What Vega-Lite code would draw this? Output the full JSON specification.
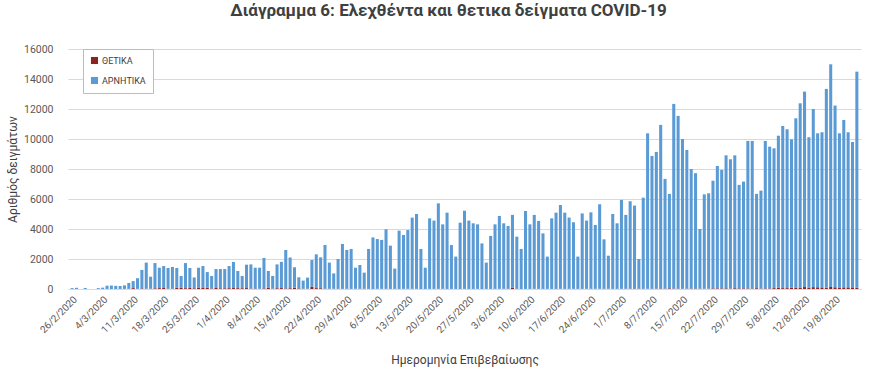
{
  "$schema": "https://vega.github.io/schema/vega-lite/v6.json",
  "width": 793,
  "height": 240,
  "autosize": {"type": "none"},
  "padding": {"left": 68, "top": 49, "right": 19, "bottom": 85},
  "background": "white",
  "config": {"view": {"stroke": null}, "font": "Roboto"},
  "title": {
    "text": "Διάγραμμα 6: Ελεχθέντα και θετικα δείγματα COVID-19",
    "fontSize": 17,
    "fontWeight": "bold",
    "color": "#404040",
    "anchor": "middle",
    "dx": -16,
    "offset": 24,
    "font": "Roboto"
  },
  "data": {
    "values": [
      {"date": "26/2/2020", "pos": 1, "neg": 59},
      {"date": "27/2/2020", "pos": 1, "neg": 79},
      {"date": "28/2/2020", "pos": 0, "neg": 0},
      {"date": "29/2/2020", "pos": 1, "neg": 69},
      {"date": "1/3/2020", "pos": 0, "neg": 0},
      {"date": "2/3/2020", "pos": 0, "neg": 0},
      {"date": "3/3/2020", "pos": 2, "neg": 58},
      {"date": "4/3/2020", "pos": 0, "neg": 90},
      {"date": "5/3/2020", "pos": 3, "neg": 217},
      {"date": "6/3/2020", "pos": 0, "neg": 230},
      {"date": "7/3/2020", "pos": 0, "neg": 210},
      {"date": "8/3/2020", "pos": 2, "neg": 198},
      {"date": "9/3/2020", "pos": 7, "neg": 233},
      {"date": "10/3/2020", "pos": 20, "neg": 380},
      {"date": "11/3/2020", "pos": 60, "neg": 470},
      {"date": "12/3/2020", "pos": 9, "neg": 711},
      {"date": "13/3/2020", "pos": 38, "neg": 1232},
      {"date": "14/3/2020", "pos": 24, "neg": 1736},
      {"date": "15/3/2020", "pos": 16, "neg": 804},
      {"date": "16/3/2020", "pos": 47, "neg": 1683},
      {"date": "17/3/2020", "pos": 59, "neg": 1361},
      {"date": "18/3/2020", "pos": 66, "neg": 1464},
      {"date": "19/3/2020", "pos": 17, "neg": 1383},
      {"date": "20/3/2020", "pos": 31, "neg": 1439},
      {"date": "21/3/2020", "pos": 78, "neg": 1322},
      {"date": "22/3/2020", "pos": 74, "neg": 796},
      {"date": "23/3/2020", "pos": 55, "neg": 1675},
      {"date": "24/3/2020", "pos": 72, "neg": 1328},
      {"date": "25/3/2020", "pos": 48, "neg": 722},
      {"date": "26/3/2020", "pos": 73, "neg": 1347},
      {"date": "27/3/2020", "pos": 102, "neg": 1428},
      {"date": "28/3/2020", "pos": 95, "neg": 1035},
      {"date": "29/3/2020", "pos": 38, "neg": 832},
      {"date": "30/3/2020", "pos": 71, "neg": 1259},
      {"date": "31/3/2020", "pos": 48, "neg": 1282},
      {"date": "1/4/2020", "pos": 49, "neg": 1281},
      {"date": "2/4/2020", "pos": 56, "neg": 1474},
      {"date": "3/4/2020", "pos": 64, "neg": 1736},
      {"date": "4/4/2020", "pos": 58, "neg": 1142},
      {"date": "5/4/2020", "pos": 53, "neg": 817},
      {"date": "6/4/2020", "pos": 61, "neg": 1559},
      {"date": "7/4/2020", "pos": 24, "neg": 1616},
      {"date": "8/4/2020", "pos": 35, "neg": 1385},
      {"date": "9/4/2020", "pos": 14, "neg": 1406},
      {"date": "10/4/2020", "pos": 40, "neg": 2030},
      {"date": "11/4/2020", "pos": 73, "neg": 1127},
      {"date": "12/4/2020", "pos": 25, "neg": 845},
      {"date": "13/4/2020", "pos": 52, "neg": 1588},
      {"date": "14/4/2020", "pos": 61, "neg": 1749},
      {"date": "15/4/2020", "pos": 40, "neg": 2560},
      {"date": "16/4/2020", "pos": 51, "neg": 2049},
      {"date": "17/4/2020", "pos": 94, "neg": 1356},
      {"date": "18/4/2020", "pos": 40, "neg": 740},
      {"date": "19/4/2020", "pos": 20, "neg": 540},
      {"date": "20/4/2020", "pos": 22, "neg": 738},
      {"date": "21/4/2020", "pos": 156, "neg": 1774},
      {"date": "22/4/2020", "pos": 60, "neg": 2250},
      {"date": "23/4/2020", "pos": 52, "neg": 2058},
      {"date": "24/4/2020", "pos": 10, "neg": 2920},
      {"date": "25/4/2020", "pos": 19, "neg": 1741},
      {"date": "26/4/2020", "pos": 20, "neg": 1020},
      {"date": "27/4/2020", "pos": 23, "neg": 1977},
      {"date": "28/4/2020", "pos": 8, "neg": 2992},
      {"date": "29/4/2020", "pos": 15, "neg": 2585},
      {"date": "30/4/2020", "pos": 5, "neg": 2665},
      {"date": "1/5/2020", "pos": 21, "neg": 1399},
      {"date": "2/5/2020", "pos": 14, "neg": 1586},
      {"date": "3/5/2020", "pos": 10, "neg": 1080},
      {"date": "4/5/2020", "pos": 6, "neg": 2664},
      {"date": "5/5/2020", "pos": 2, "neg": 3438},
      {"date": "6/5/2020", "pos": 10, "neg": 3320},
      {"date": "7/5/2020", "pos": 10, "neg": 3260},
      {"date": "8/5/2020", "pos": 13, "neg": 3967},
      {"date": "9/5/2020", "pos": 5, "neg": 2885},
      {"date": "10/5/2020", "pos": 8, "neg": 1352},
      {"date": "11/5/2020", "pos": 3, "neg": 3887},
      {"date": "12/5/2020", "pos": 12, "neg": 3588},
      {"date": "13/5/2020", "pos": 15, "neg": 3915},
      {"date": "14/5/2020", "pos": 9, "neg": 4751},
      {"date": "15/5/2020", "pos": 8, "neg": 4992},
      {"date": "16/5/2020", "pos": 1, "neg": 2669},
      {"date": "17/5/2020", "pos": 2, "neg": 1418},
      {"date": "18/5/2020", "pos": 7, "neg": 4703},
      {"date": "19/5/2020", "pos": 10, "neg": 4550},
      {"date": "20/5/2020", "pos": 14, "neg": 5696},
      {"date": "21/5/2020", "pos": 20, "neg": 4290},
      {"date": "22/5/2020", "pos": 3, "neg": 5087},
      {"date": "23/5/2020", "pos": 5, "neg": 2925},
      {"date": "24/5/2020", "pos": 5, "neg": 2155},
      {"date": "25/5/2020", "pos": 1, "neg": 4419},
      {"date": "26/5/2020", "pos": 8, "neg": 5212},
      {"date": "27/5/2020", "pos": 2, "neg": 4558},
      {"date": "28/5/2020", "pos": 4, "neg": 4376},
      {"date": "29/5/2020", "pos": 7, "neg": 4303},
      {"date": "30/5/2020", "pos": 0, "neg": 3040},
      {"date": "31/5/2020", "pos": 4, "neg": 1756},
      {"date": "1/6/2020", "pos": 4, "neg": 3536},
      {"date": "2/6/2020", "pos": 10, "neg": 4300},
      {"date": "3/6/2020", "pos": 10, "neg": 4860},
      {"date": "4/6/2020", "pos": 15, "neg": 4365},
      {"date": "5/6/2020", "pos": 13, "neg": 4187},
      {"date": "6/6/2020", "pos": 97, "neg": 4843},
      {"date": "7/6/2020", "pos": 8, "neg": 3482},
      {"date": "8/6/2020", "pos": 1, "neg": 2669},
      {"date": "9/6/2020", "pos": 4, "neg": 5196},
      {"date": "10/6/2020", "pos": 6, "neg": 4304},
      {"date": "11/6/2020", "pos": 20, "neg": 4920},
      {"date": "12/6/2020", "pos": 9, "neg": 4531},
      {"date": "13/6/2020", "pos": 5, "neg": 3705},
      {"date": "14/6/2020", "pos": 7, "neg": 2153},
      {"date": "15/6/2020", "pos": 2, "neg": 4708},
      {"date": "16/6/2020", "pos": 5, "neg": 5085},
      {"date": "17/6/2020", "pos": 11, "neg": 5589},
      {"date": "18/6/2020", "pos": 4, "neg": 5086},
      {"date": "19/6/2020", "pos": 14, "neg": 4746},
      {"date": "20/6/2020", "pos": 11, "neg": 4439},
      {"date": "21/6/2020", "pos": 9, "neg": 2151},
      {"date": "22/6/2020", "pos": 10, "neg": 5030},
      {"date": "23/6/2020", "pos": 11, "neg": 4549},
      {"date": "24/6/2020", "pos": 17, "neg": 5093},
      {"date": "25/6/2020", "pos": 13, "neg": 4257},
      {"date": "26/6/2020", "pos": 14, "neg": 5636},
      {"date": "27/6/2020", "pos": 10, "neg": 3300},
      {"date": "28/6/2020", "pos": 23, "neg": 2197},
      {"date": "29/6/2020", "pos": 5, "neg": 4995},
      {"date": "30/6/2020", "pos": 8, "neg": 4372},
      {"date": "1/7/2020", "pos": 14, "neg": 5926},
      {"date": "2/7/2020", "pos": 18, "neg": 4922},
      {"date": "3/7/2020", "pos": 21, "neg": 5829},
      {"date": "4/7/2020", "pos": 37, "neg": 5523},
      {"date": "5/7/2020", "pos": 23, "neg": 1977},
      {"date": "6/7/2020", "pos": 9, "neg": 6081},
      {"date": "7/7/2020", "pos": 19, "neg": 10361},
      {"date": "8/7/2020", "pos": 7, "neg": 8863},
      {"date": "9/7/2020", "pos": 25, "neg": 9115},
      {"date": "10/7/2020", "pos": 35, "neg": 10905},
      {"date": "11/7/2020", "pos": 21, "neg": 7319},
      {"date": "12/7/2020", "pos": 46, "neg": 6294},
      {"date": "13/7/2020", "pos": 28, "neg": 12312},
      {"date": "14/7/2020", "pos": 26, "neg": 11514},
      {"date": "15/7/2020", "pos": 21, "neg": 9979},
      {"date": "16/7/2020", "pos": 19, "neg": 9251},
      {"date": "17/7/2020", "pos": 30, "neg": 7970},
      {"date": "18/7/2020", "pos": 37, "neg": 7683},
      {"date": "19/7/2020", "pos": 13, "neg": 3987},
      {"date": "20/7/2020", "pos": 25, "neg": 6285},
      {"date": "21/7/2020", "pos": 16, "neg": 6364},
      {"date": "22/7/2020", "pos": 42, "neg": 7178},
      {"date": "23/7/2020", "pos": 43, "neg": 8157},
      {"date": "24/7/2020", "pos": 40, "neg": 7900},
      {"date": "25/7/2020", "pos": 44, "neg": 8866},
      {"date": "26/7/2020", "pos": 26, "neg": 8624},
      {"date": "27/7/2020", "pos": 52, "neg": 8858},
      {"date": "28/7/2020", "pos": 40, "neg": 6900},
      {"date": "29/7/2020", "pos": 44, "neg": 7116},
      {"date": "30/7/2020", "pos": 37, "neg": 9833},
      {"date": "31/7/2020", "pos": 36, "neg": 9834},
      {"date": "1/8/2020", "pos": 55, "neg": 6285},
      {"date": "2/8/2020", "pos": 25, "neg": 6535},
      {"date": "3/8/2020", "pos": 40, "neg": 9830},
      {"date": "4/8/2020", "pos": 35, "neg": 9455},
      {"date": "5/8/2020", "pos": 60, "neg": 9320},
      {"date": "6/8/2020", "pos": 75, "neg": 10145},
      {"date": "7/8/2020", "pos": 60, "neg": 10810},
      {"date": "8/8/2020", "pos": 60, "neg": 10590},
      {"date": "9/8/2020", "pos": 75, "neg": 9905},
      {"date": "10/8/2020", "pos": 100, "neg": 11280},
      {"date": "11/8/2020", "pos": 95, "neg": 12285},
      {"date": "12/8/2020", "pos": 130, "neg": 13030},
      {"date": "13/8/2020", "pos": 80, "neg": 10040},
      {"date": "14/8/2020", "pos": 125, "neg": 11875},
      {"date": "15/8/2020", "pos": 115, "neg": 10265},
      {"date": "16/8/2020", "pos": 105, "neg": 10345},
      {"date": "17/8/2020", "pos": 85, "neg": 13255},
      {"date": "18/8/2020", "pos": 135, "neg": 14845},
      {"date": "19/8/2020", "pos": 115, "neg": 12115},
      {"date": "20/8/2020", "pos": 100, "neg": 10280},
      {"date": "21/8/2020", "pos": 110, "neg": 11160},
      {"date": "22/8/2020", "pos": 110, "neg": 10340},
      {"date": "23/8/2020", "pos": 110, "neg": 9690},
      {"date": "24/8/2020", "pos": 85, "neg": 14405}
    ]
  },
  "transform": [{"fold": ["pos", "neg"], "as": ["type", "count"]}],
  "mark": {"type": "bar"},
  "encoding": {
    "x": {
      "field": "date",
      "type": "ordinal",
      "sort": null,
      "scale": {"paddingInner": 0.3, "paddingOuter": 0.6},
      "axis": {
        "values": ["26/2/2020", "4/3/2020", "11/3/2020", "18/3/2020", "25/3/2020", "1/4/2020", "8/4/2020", "15/4/2020", "22/4/2020", "29/4/2020", "6/5/2020", "13/5/2020", "20/5/2020", "27/5/2020", "3/6/2020", "10/6/2020", "17/6/2020", "24/6/2020", "1/7/2020", "8/7/2020", "15/7/2020", "22/7/2020", "29/7/2020", "5/8/2020", "12/8/2020", "19/8/2020"],
        "labelAngle": -45,
        "labelFontSize": 10,
        "labelColor": "#595959",
        "labelPadding": 5,
        "ticks": false,
        "domainColor": "#d9d9d9",
        "title": "Ημερομηνία Επιβεβαίωσης",
        "titleFontSize": 12,
        "titleFontWeight": "normal",
        "titleColor": "#404040",
        "titleBaseline": "middle",
        "titleY": 70
      }
    },
    "y": {
      "field": "count",
      "type": "quantitative",
      "stack": "zero",
      "scale": {"domain": [0, 16000], "nice": false},
      "axis": {
        "values": [0, 2000, 4000, 6000, 8000, 10000, 12000, 14000, 16000],
        "format": "d",
        "labelFontSize": 10.5,
        "labelColor": "#595959",
        "labelPadding": 15,
        "ticks": false,
        "domain": false,
        "gridColor": "#d9d9d9",
        "title": "Αριθμός δειγμάτων",
        "titleFontSize": 12,
        "titleFontWeight": "normal",
        "titleColor": "#404040",
        "titleX": -56,
        "titleBaseline": "middle"
      }
    },
    "color": {
      "field": "type",
      "type": "nominal",
      "scale": {"domain": ["pos", "neg"], "range": ["#8b2323", "#5b9bd5"]},
      "legend": {
        "orient": "none",
        "legendX": 15,
        "legendY": 0,
        "title": null,
        "labelExpr": "datum.value == 'pos' ? 'ΘΕΤΙΚΑ' : 'ΑΡΝΗΤΙΚΑ'",
        "symbolType": "square",
        "symbolSize": 50,
        "symbolStrokeWidth": 0,
        "labelFontSize": 9,
        "labelColor": "#404040",
        "rowPadding": 10,
        "padding": 7,
        "strokeColor": "#9dc3e6",
        "fillColor": "white",
        "labelOffset": 3
      }
    },
    "order": {"field": "type", "sort": "descending"}
  }
}
